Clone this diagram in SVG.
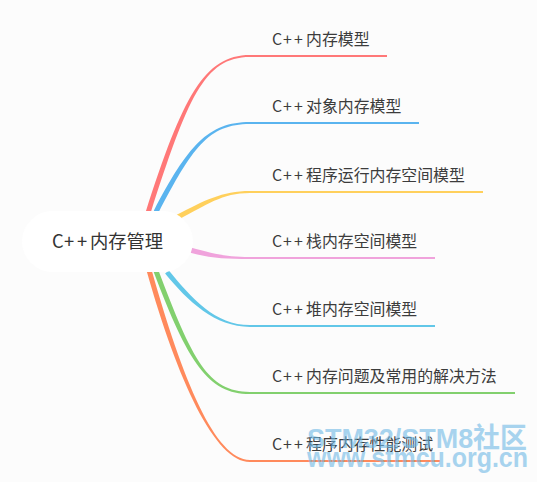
<svg xmlns="http://www.w3.org/2000/svg" width="537" height="482" viewBox="0 0 537 482">
<style>
.lbl{font-family:"Noto Sans CJK SC","Noto Sans",sans-serif;font-size:15.9px;fill:#3c3c3c}
.root{font-family:"Noto Sans CJK SC","Noto Sans",sans-serif;font-size:18.3px;fill:#333}
.wm{font-family:"Liberation Sans","DejaVu Sans","Noto Sans CJK SC",sans-serif;font-weight:bold;fill:#6fb9e6;opacity:0.6}
</style>
<rect width="537" height="482" fill="#fcfcfc"/>
<g id="connectors">
<path fill="#ff7878" d="M150.4,213.8 C187.4,98.8 204,57 250,57 L387,57 L387,55 L250,55 C204,55 182.6,97.2 145.6,212.2 Z"/>
<path fill="#5ab4ef" d="M158.2,213.2 C192.2,148.2 208,124 250,124 L419,124 L419,122 L250,122 C208,122 187.8,145.8 153.8,210.8 Z"/>
<path fill="#ffd05c" d="M179.2,219.2 C206.2,205.2 222,193 250,193 L483,193 L483,191 L250,191 C222,191 203.8,200.8 176.8,214.8 Z"/>
<path fill="#f0a3dc" d="M189.3,252.4 C211.3,258.4 225,259 250,259 L435,259 L435,257 L250,257 C225,257 212.7,253.6 190.7,247.6 Z"/>
<path fill="#62c7e8" d="M165.1,273.6 C188.1,301.6 215,327 250,327 L435,327 L435,325 L250,325 C215,325 191.9,298.4 168.9,270.4 Z"/>
<path fill="#82d06e" d="M153.7,271.9 C187.7,361.9 208,394 250,394 L515,394 L515,392 L250,392 C208,392 192.3,360.1 158.3,270.1 Z"/>
<path fill="#ff8a5c" d="M146.6,270.7 C177.6,380.7 215,462 250,462 L440,462 L440,460 L250,460 C215,460 182.4,379.3 151.4,269.3 Z"/>
</g>
<g id="root">
<rect x="22" y="211" width="171" height="61" rx="30.5" fill="#ffffff"/>
<text class="root" x="52" y="248">C<tspan x="64">+</tspan><tspan x="77">+</tspan><tspan x="90">内存管理</tspan></text>
</g>
<g id="n1"><text class="lbl" x="272" y="45">C<tspan x="283">+</tspan><tspan x="294">+</tspan><tspan x="306">内存模型</tspan></text></g>
<g id="n2"><text class="lbl" x="272" y="112">C<tspan x="283">+</tspan><tspan x="294">+</tspan><tspan x="306">对象内存模型</tspan></text></g>
<g id="n3"><text class="lbl" x="272" y="181">C<tspan x="283">+</tspan><tspan x="294">+</tspan><tspan x="306">程序运行内存空间模型</tspan></text></g>
<g id="n4"><text class="lbl" x="272" y="247">C<tspan x="283">+</tspan><tspan x="294">+</tspan><tspan x="306">栈内存空间模型</tspan></text></g>
<g id="n5"><text class="lbl" x="272" y="315">C<tspan x="283">+</tspan><tspan x="294">+</tspan><tspan x="306">堆内存空间模型</tspan></text></g>
<g id="n6"><text class="lbl" x="272" y="382">C<tspan x="283">+</tspan><tspan x="294">+</tspan><tspan x="306">内存问题及常用的解决方法</tspan></text></g>
<g id="n7"><text class="lbl" x="272" y="450">C<tspan x="283">+</tspan><tspan x="294">+</tspan><tspan x="306">程序内存性能测试</tspan></text></g>
<g id="watermark">
<text class="wm" x="307" y="448" font-size="28" textLength="220" lengthAdjust="spacingAndGlyphs">STM32/STM8社区</text>
<text class="wm" x="307" y="467" font-size="27" textLength="221" lengthAdjust="spacingAndGlyphs">www.stmcu.org.cn</text>
</g>
</svg>
